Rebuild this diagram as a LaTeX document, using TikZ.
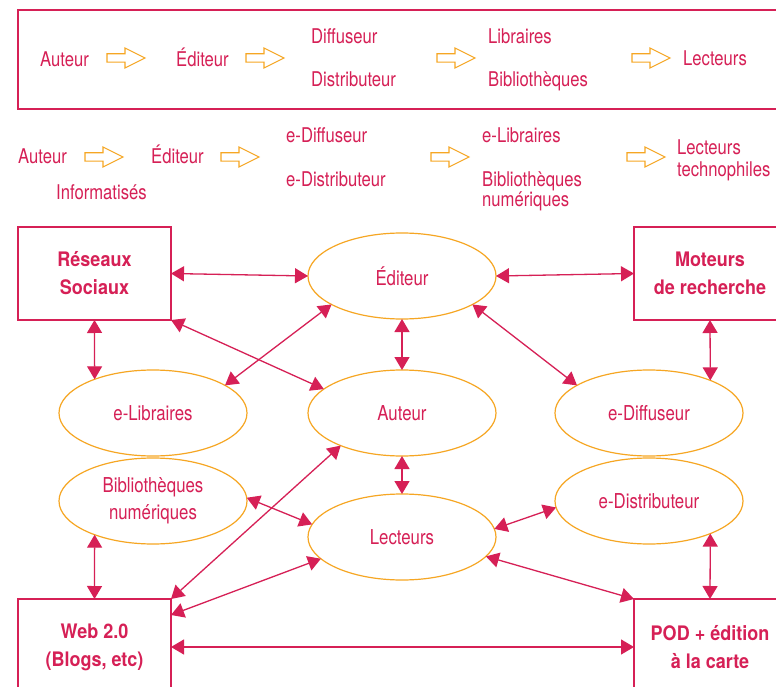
\documentclass[tikz,border=0pt]{standalone}
\usepackage{fontspec}
\setmainfont{TeX Gyre Heros}[FakeStretch=0.82]
\newfontfamily\boxfont{TeX Gyre Heros}[FakeStretch=0.9]
\usetikzlibrary{arrows.meta,shapes.geometric}
\definecolor{crimson}{RGB}{214,32,86}
\definecolor{amber}{RGB}{246,166,35}

\tikzset{
  txt/.style={text=crimson, font=\fontsize{20.3}{22}\selectfont, inner sep=0pt, anchor=base west},
  hub/.style={draw=amber, line width=1.2pt, ellipse, minimum width=188pt, minimum height=86pt,
    inner sep=0pt, outer sep=0pt, text=crimson, font=\fontsize{20.5}{27}\selectfont, align=center},
  actor/.style={draw=crimson, line width=1.2pt, rectangle, minimum width=153pt, minimum height=93pt,
    inner sep=0pt, outer sep=0pt, text=crimson, font=\boxfont\bfseries\fontsize{20}{28}\selectfont, align=center},
  link/.style={draw=crimson, line width=1.3pt,
    {Triangle[length=13pt,width=15pt]}-{Triangle[length=13pt,width=15pt]}},
  flowarrow/.pic={\draw[amber, line width=1.1pt, line join=miter]
    (0,-4.2) -- (18,-4.2) -- (18,-10) -- (38,0) -- (18,10) -- (18,4.2) -- (0,4.2) -- cycle;}
}

\begin{document}
\begin{tikzpicture}[x=1pt, y=-1pt]
  \useasboundingbox (0,0) rectangle (776,687);
  \fill[white] (0,0) rectangle (776,687);
  \clip (0,0) rectangle (776,687);

  % traditional chain
  \draw[crimson, line width=1.3pt] (18,10) rectangle (790,109);
  \node[txt] (a1) at (40,67) {Auteur};
  \pic at (107,58) {flowarrow};
  \node[txt] (e1) at (176,67) {Éditeur};
  \pic at (246,58) {flowarrow};
  \node[txt] (d1) at (311,44) {Diffuseur};
  \node[txt] (d2) at (311,87) {Distributeur};
  \pic at (437,58) {flowarrow};
  \node[txt] (l1) at (488,44) {Libraires};
  \node[txt] (b1) at (488,87) {Bibliothèques};
  \pic at (632,58) {flowarrow};
  \node[txt] (r1) at (683,66) {Lecteurs};

  % digital chain
  \node[txt] (a2) at (18,164) {Auteur};
  \pic at (85,157) {flowarrow};
  \node[txt] (e2) at (151,164) {Éditeur};
  \node[txt] (i2) at (56,200) {Informatisés};
  \pic at (221,157) {flowarrow};
  \node[txt] (d3) at (286,143) {e-Diffuseur};
  \node[txt] (d4) at (286,186) {e-Distributeur};
  \pic at (431,157) {flowarrow};
  \node[txt] (l2) at (482,143) {e-Libraires};
  \node[txt] (b2) at (482,186) {Bibliothèques};
  \node[txt] (b3) at (482,207) {numériques};
  \pic at (627,157) {flowarrow};
  \node[txt] (r2) at (677,155) {Lecteurs};
  \node[txt] (r3) at (677,177) {technophiles};

  % network: boxes
  \node[actor] (res) at (94.5,273.5) {Réseaux\\Sociaux};
  \node[actor, minimum width=152pt] (mot) at (710,273.5) {Moteurs\\de recherche};
  \node[actor, minimum height=96pt] (web) at (94.5,647) {Web 2.0\\(Blogs, etc)};
  \node[actor, minimum width=152pt, minimum height=96pt] (pod) at (710,647) {POD + édition\\à la carte};

  % network: actors
  \node[hub] (edit)  at (402,276) {Éditeur};
  \node[hub] (elib)  at (153,413) {e-Libraires};
  \node[hub] (aut)   at (402,413) {Auteur};
  \node[hub] (ediff) at (649,413) {e-Diffuseur};
  \node[hub] (bib)   at (153,501) {Bibliothèques\\numériques};
  \node[hub] (lect)  at (402,537) {Lecteurs};
  \node[hub] (edist) at (649,501) {e-Distributeur};

  % relations
  \draw[link] (res.east) -- (edit.west);
  \draw[link] (edit.east) -- (mot.west);
  \draw[link] (res.south) -- (elib.150);
  \draw[link] (res.south east) -- (aut.163);
  \draw[link] (edit.202) -- (elib.21);
  \draw[link] (edit.south) -- (aut.north);
  \draw[link] (edit.338) -- (ediff.159);
  \draw[link] (mot.south) -- (ediff.28);
  \draw[link] (aut.south) -- (lect.north);
  \draw[link] (bib.2) -- (lect.172);
  \draw[link] (aut.208) -- (web.north east);
  \draw[link] (lect.195) -- ([yshift=-16pt]web.north east);
  \draw[link] (lect.5.5) -- (edist.184);
  \draw[link] (lect.347) -- (pod.north west);
  \draw[link] (edist.-28) -- (pod.north);
  \draw[link] (bib.210) -- (web.north);
  \draw[link] (web.east) -- (pod.west);
\end{tikzpicture}
\end{document}
